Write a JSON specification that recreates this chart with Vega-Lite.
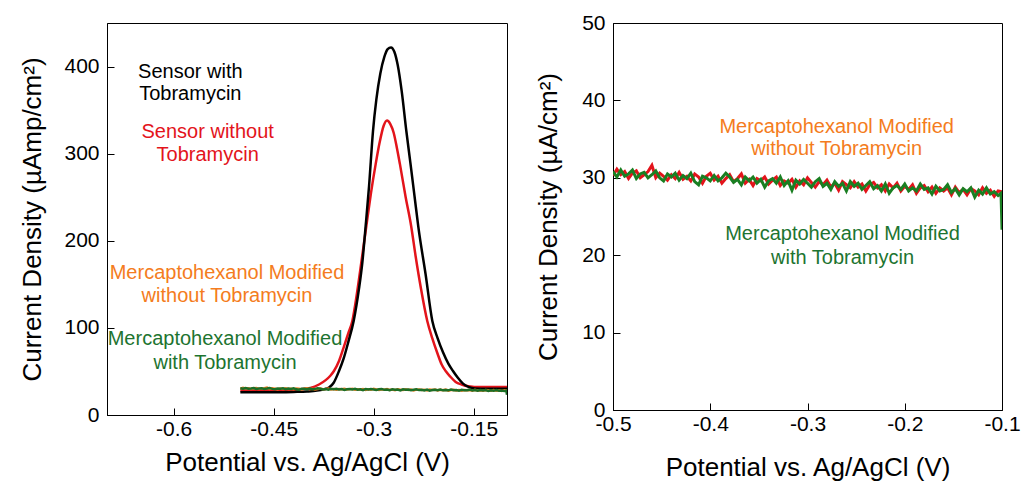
{
  "$schema": "https://vega.github.io/schema/vega-lite/v6.json",
  "padding": {"left": 19, "top": 11, "right": 0, "bottom": 0},
  "background": "white",
  "bounds": "flush",
  "spacing": 106,
  "config": {
    "font": "Liberation Sans",
    "view": {"stroke": "black", "strokeWidth": 1},
    "axis": {
      "grid": false,
      "domainColor": "black",
      "domainWidth": 1,
      "tickColor": "black",
      "tickSize": -7,
      "tickWidth": 1,
      "labelFont": "Liberation Sans",
      "labelFontSize": 21,
      "labelColor": "black",
      "labelFlush": false,
      "labelOverlap": false,
      "titleFont": "Liberation Sans",
      "titleFontSize": 26,
      "titleFontWeight": "normal",
      "titleColor": "black"
    },
    "text": {"font": "Liberation Sans", "fontSize": 20}
  },
  "datasets": {
    "peaks": [
      {"s": "b", "x": -0.5, "y": 26}, {"s": "b", "x": -0.46, "y": 26}, {"s": "b", "x": -0.42, "y": 26.5}, {"s": "b", "x": -0.4, "y": 27}, {"s": "b", "x": -0.385, "y": 28}, {"s": "b", "x": -0.375, "y": 29.5}, {"s": "b", "x": -0.367, "y": 31.5}, {"s": "b", "x": -0.36, "y": 37}, {"s": "b", "x": -0.352, "y": 50.5}, {"s": "b", "x": -0.345, "y": 65}, {"s": "b", "x": -0.338, "y": 84}, {"s": "b", "x": -0.33, "y": 108}, {"s": "b", "x": -0.322, "y": 145}, {"s": "b", "x": -0.317, "y": 175}, {"s": "b", "x": -0.312, "y": 217}, {"s": "b", "x": -0.307, "y": 262}, {"s": "b", "x": -0.301, "y": 326}, {"s": "b", "x": -0.296, "y": 362}, {"s": "b", "x": -0.29, "y": 392}, {"s": "b", "x": -0.284, "y": 411}, {"s": "b", "x": -0.279, "y": 420}, {"s": "b", "x": -0.274, "y": 422}, {"s": "b", "x": -0.269, "y": 417}, {"s": "b", "x": -0.264, "y": 402}, {"s": "b", "x": -0.258, "y": 372}, {"s": "b", "x": -0.251, "y": 326}, {"s": "b", "x": -0.245, "y": 290}, {"s": "b", "x": -0.239, "y": 253}, {"s": "b", "x": -0.233, "y": 216}, {"s": "b", "x": -0.222, "y": 161}, {"s": "b", "x": -0.212, "y": 108}, {"s": "b", "x": -0.204, "y": 88}, {"s": "b", "x": -0.196, "y": 72}, {"s": "b", "x": -0.188, "y": 59}, {"s": "b", "x": -0.181, "y": 50.5}, {"s": "b", "x": -0.174, "y": 43}, {"s": "b", "x": -0.166, "y": 36}, {"s": "b", "x": -0.157, "y": 32}, {"s": "b", "x": -0.148, "y": 30.5}, {"s": "b", "x": -0.13, "y": 30}, {"s": "b", "x": -0.1, "y": 30},
      {"s": "r", "x": -0.5, "y": 28}, {"s": "r", "x": -0.46, "y": 28}, {"s": "r", "x": -0.43, "y": 28.5}, {"s": "r", "x": -0.41, "y": 29.5}, {"s": "r", "x": -0.395, "y": 31}, {"s": "r", "x": -0.382, "y": 35}, {"s": "r", "x": -0.372, "y": 40}, {"s": "r", "x": -0.365, "y": 45}, {"s": "r", "x": -0.3596, "y": 50.5}, {"s": "r", "x": -0.352, "y": 62}, {"s": "r", "x": -0.344, "y": 80}, {"s": "r", "x": -0.338, "y": 94}, {"s": "r", "x": -0.332, "y": 108}, {"s": "r", "x": -0.325, "y": 140}, {"s": "r", "x": -0.318, "y": 178}, {"s": "r", "x": -0.311, "y": 217}, {"s": "r", "x": -0.304, "y": 255}, {"s": "r", "x": -0.297, "y": 288}, {"s": "r", "x": -0.291, "y": 313}, {"s": "r", "x": -0.285, "y": 332}, {"s": "r", "x": -0.28, "y": 338}, {"s": "r", "x": -0.275, "y": 334}, {"s": "r", "x": -0.27, "y": 324}, {"s": "r", "x": -0.265, "y": 306}, {"s": "r", "x": -0.2606, "y": 288}, {"s": "r", "x": -0.252, "y": 250}, {"s": "r", "x": -0.2438, "y": 217}, {"s": "r", "x": -0.237, "y": 182}, {"s": "r", "x": -0.229, "y": 145}, {"s": "r", "x": -0.2196, "y": 108}, {"s": "r", "x": -0.212, "y": 88}, {"s": "r", "x": -0.204, "y": 70}, {"s": "r", "x": -0.198, "y": 58}, {"s": "r", "x": -0.192, "y": 50.5}, {"s": "r", "x": -0.185, "y": 44}, {"s": "r", "x": -0.177, "y": 38}, {"s": "r", "x": -0.168, "y": 35}, {"s": "r", "x": -0.158, "y": 33}, {"s": "r", "x": -0.14, "y": 32}, {"s": "r", "x": -0.12, "y": 32}, {"s": "r", "x": -0.1, "y": 32}
    ],
    "without": [
      {"x": -0.5, "y": 30.3}, {"x": -0.496, "y": 31.1}, {"x": -0.492, "y": 30.4}, {"x": -0.488, "y": 30.8}, {"x": -0.484, "y": 29.9}, {"x": -0.48, "y": 30.6}, {"x": -0.476, "y": 30.9}, {"x": -0.472, "y": 30.0}, {"x": -0.468, "y": 30.4}, {"x": -0.464, "y": 30.8},
      {"x": -0.46, "y": 31.6}, {"x": -0.456, "y": 30.0}, {"x": -0.452, "y": 30.6}, {"x": -0.448, "y": 30.2}, {"x": -0.444, "y": 29.7}, {"x": -0.44, "y": 30.4}, {"x": -0.436, "y": 29.9}, {"x": -0.432, "y": 30.7}, {"x": -0.428, "y": 29.8}, {"x": -0.424, "y": 30.2},
      {"x": -0.42, "y": 29.6}, {"x": -0.416, "y": 30.5}, {"x": -0.412, "y": 30.1}, {"x": -0.408, "y": 29.3}, {"x": -0.404, "y": 30.2}, {"x": -0.4, "y": 30.6}, {"x": -0.396, "y": 29.7}, {"x": -0.392, "y": 30.2}, {"x": -0.388, "y": 29.3}, {"x": -0.384, "y": 29.9},
      {"x": -0.38, "y": 30.4}, {"x": -0.376, "y": 29.5}, {"x": -0.372, "y": 29.9}, {"x": -0.368, "y": 30.5}, {"x": -0.364, "y": 29.3}, {"x": -0.36, "y": 29.8}, {"x": -0.356, "y": 29.0}, {"x": -0.352, "y": 29.9}, {"x": -0.348, "y": 29.6}, {"x": -0.344, "y": 30.1},
      {"x": -0.34, "y": 29.2}, {"x": -0.336, "y": 29.7}, {"x": -0.332, "y": 30.1}, {"x": -0.328, "y": 29.0}, {"x": -0.324, "y": 29.6}, {"x": -0.32, "y": 29.3}, {"x": -0.316, "y": 29.8}, {"x": -0.312, "y": 28.8}, {"x": -0.308, "y": 29.6}, {"x": -0.304, "y": 29.1},
      {"x": -0.3, "y": 30.0}, {"x": -0.296, "y": 29.4}, {"x": -0.292, "y": 28.8}, {"x": -0.288, "y": 29.5}, {"x": -0.284, "y": 29.1}, {"x": -0.28, "y": 29.7}, {"x": -0.276, "y": 28.8}, {"x": -0.272, "y": 29.3}, {"x": -0.268, "y": 28.4}, {"x": -0.264, "y": 29.5},
      {"x": -0.26, "y": 29.1}, {"x": -0.256, "y": 28.7}, {"x": -0.252, "y": 29.5}, {"x": -0.248, "y": 28.8}, {"x": -0.244, "y": 29.2}, {"x": -0.24, "y": 28.3}, {"x": -0.236, "y": 29.1}, {"x": -0.232, "y": 29.4}, {"x": -0.228, "y": 28.7}, {"x": -0.224, "y": 29.1},
      {"x": -0.22, "y": 28.3}, {"x": -0.216, "y": 29.2}, {"x": -0.212, "y": 28.7}, {"x": -0.208, "y": 29.3}, {"x": -0.204, "y": 28.3}, {"x": -0.2, "y": 28.9}, {"x": -0.196, "y": 28.5}, {"x": -0.192, "y": 29.1}, {"x": -0.188, "y": 28.0}, {"x": -0.184, "y": 28.7},
      {"x": -0.18, "y": 29.0}, {"x": -0.176, "y": 28.2}, {"x": -0.172, "y": 28.8}, {"x": -0.168, "y": 28.0}, {"x": -0.164, "y": 28.7}, {"x": -0.16, "y": 28.3}, {"x": -0.156, "y": 28.7}, {"x": -0.152, "y": 27.8}, {"x": -0.148, "y": 28.8}, {"x": -0.144, "y": 28.1},
      {"x": -0.14, "y": 28.5}, {"x": -0.136, "y": 27.8}, {"x": -0.132, "y": 28.6}, {"x": -0.128, "y": 28.3}, {"x": -0.124, "y": 27.8}, {"x": -0.12, "y": 28.7}, {"x": -0.116, "y": 28.0}, {"x": -0.112, "y": 28.4}, {"x": -0.108, "y": 27.6}, {"x": -0.104, "y": 28.3},
      {"x": -0.1, "y": 28.2}
    ],
    "with": [
      {"x": -0.5, "y": 30.8}, {"x": -0.496, "y": 30.1}, {"x": -0.492, "y": 31.0}, {"x": -0.488, "y": 30.2}, {"x": -0.484, "y": 30.5}, {"x": -0.48, "y": 31.0}, {"x": -0.476, "y": 29.9}, {"x": -0.472, "y": 30.5}, {"x": -0.468, "y": 30.7}, {"x": -0.464, "y": 30.0},
      {"x": -0.46, "y": 30.4}, {"x": -0.456, "y": 30.9}, {"x": -0.452, "y": 30.0}, {"x": -0.448, "y": 29.6}, {"x": -0.444, "y": 30.5}, {"x": -0.44, "y": 30.1}, {"x": -0.436, "y": 30.6}, {"x": -0.432, "y": 29.7}, {"x": -0.428, "y": 30.3}, {"x": -0.424, "y": 29.9},
      {"x": -0.42, "y": 30.6}, {"x": -0.416, "y": 29.5}, {"x": -0.412, "y": 29.1}, {"x": -0.408, "y": 30.2}, {"x": -0.404, "y": 30.0}, {"x": -0.4, "y": 29.6}, {"x": -0.396, "y": 30.3}, {"x": -0.392, "y": 29.6}, {"x": -0.388, "y": 30.0}, {"x": -0.384, "y": 30.6},
      {"x": -0.38, "y": 30.1}, {"x": -0.376, "y": 29.4}, {"x": -0.372, "y": 29.8}, {"x": -0.368, "y": 29.1}, {"x": -0.364, "y": 30.1}, {"x": -0.36, "y": 29.6}, {"x": -0.356, "y": 30.1}, {"x": -0.352, "y": 29.3}, {"x": -0.348, "y": 29.8}, {"x": -0.344, "y": 28.8},
      {"x": -0.34, "y": 29.6}, {"x": -0.336, "y": 29.9}, {"x": -0.332, "y": 29.3}, {"x": -0.328, "y": 30.1}, {"x": -0.324, "y": 29.0}, {"x": -0.32, "y": 29.6}, {"x": -0.316, "y": 28.4}, {"x": -0.312, "y": 29.7}, {"x": -0.308, "y": 29.2}, {"x": -0.304, "y": 29.8},
      {"x": -0.3, "y": 29.3}, {"x": -0.296, "y": 28.8}, {"x": -0.292, "y": 29.5}, {"x": -0.288, "y": 29.9}, {"x": -0.284, "y": 28.9}, {"x": -0.28, "y": 29.3}, {"x": -0.276, "y": 28.5}, {"x": -0.272, "y": 29.5}, {"x": -0.268, "y": 28.9}, {"x": -0.264, "y": 29.3},
      {"x": -0.26, "y": 28.3}, {"x": -0.256, "y": 29.5}, {"x": -0.252, "y": 28.9}, {"x": -0.248, "y": 29.3}, {"x": -0.244, "y": 28.5}, {"x": -0.24, "y": 29.0}, {"x": -0.236, "y": 29.5}, {"x": -0.232, "y": 28.6}, {"x": -0.228, "y": 29.0}, {"x": -0.224, "y": 28.3},
      {"x": -0.22, "y": 29.2}, {"x": -0.216, "y": 28.0}, {"x": -0.212, "y": 28.7}, {"x": -0.208, "y": 29.0}, {"x": -0.204, "y": 28.5}, {"x": -0.2, "y": 29.2}, {"x": -0.196, "y": 28.3}, {"x": -0.192, "y": 28.7}, {"x": -0.188, "y": 28.3}, {"x": -0.184, "y": 29.2},
      {"x": -0.18, "y": 28.5}, {"x": -0.176, "y": 28.7}, {"x": -0.172, "y": 27.9}, {"x": -0.168, "y": 28.9}, {"x": -0.164, "y": 28.3}, {"x": -0.16, "y": 28.5}, {"x": -0.156, "y": 29.1}, {"x": -0.152, "y": 28.1}, {"x": -0.148, "y": 28.6}, {"x": -0.144, "y": 27.8},
      {"x": -0.14, "y": 28.6}, {"x": -0.136, "y": 28.2}, {"x": -0.132, "y": 28.7}, {"x": -0.128, "y": 27.5}, {"x": -0.124, "y": 28.4}, {"x": -0.12, "y": 27.9}, {"x": -0.116, "y": 28.7}, {"x": -0.112, "y": 27.9}, {"x": -0.108, "y": 28.2}, {"x": -0.104, "y": 27.7},
      {"x": -0.101, "y": 28.0}, {"x": -0.1, "y": 23.3}
    ],
    "labels": [
      {"p": "L", "g": "sw", "t": "Sensor with", "x": -0.575, "y": 394},
      {"p": "L", "g": "sw", "t": "Tobramycin", "x": -0.575, "y": 368},
      {"p": "L", "g": "swo", "t": "Sensor without", "x": -0.549, "y": 325},
      {"p": "L", "g": "swo", "t": "Tobramycin", "x": -0.549, "y": 299},
      {"p": "L", "g": "mwo", "t": "Mercaptohexanol Modified", "x": -0.52, "y": 162.7},
      {"p": "L", "g": "mwo", "t": "without Tobramycin", "x": -0.52, "y": 136.6},
      {"p": "L", "g": "mw", "t": "Mercaptohexanol Modified", "x": -0.523, "y": 86.9},
      {"p": "L", "g": "mw", "t": "with Tobramycin", "x": -0.523, "y": 60.1},
      {"p": "R", "g": "mwo", "t": "Mercaptohexanol Modified", "x": -0.27, "y": 36.5},
      {"p": "R", "g": "mwo", "t": "without Tobramycin", "x": -0.27, "y": 33.7},
      {"p": "R", "g": "mw", "t": "Mercaptohexanol Modified", "x": -0.264, "y": 22.7},
      {"p": "R", "g": "mw", "t": "with Tobramycin", "x": -0.264, "y": 19.7}
    ]
  },
  "hconcat": [
    {
      "width": 400,
      "height": 392,
      "encoding": {
        "x": {"field": "x", "type": "quantitative", "scale": {"domain": [-0.7, -0.1], "nice": false, "zero": false},
              "axis": {"values": [-0.6, -0.45, -0.3, -0.15], "labelExpr": "'' + datum.value", "title": "Potential vs. Ag/AgCl (V)", "labelPadding": 10, "titlePadding": 10}},
        "y": {"field": "y", "type": "quantitative", "scale": {"domain": [0, 450], "nice": false},
              "axis": {"values": [0, 100, 200, 300, 400], "title": "Current Density (µAmp/cm²)", "labelPadding": 15, "titlePadding": 18}}
      },
      "layer": [
        {"data": {"name": "peaks"}, "transform": [{"filter": "datum.s == 'r'"}], "mark": {"type": "line", "color": "#e3141b", "strokeWidth": 2.5, "interpolate": "monotone", "clip": true}},
        {"data": {"name": "peaks"}, "transform": [{"filter": "datum.s == 'b'"}], "mark": {"type": "line", "color": "black", "strokeWidth": 2.5, "interpolate": "monotone", "clip": true}},
        {"data": {"name": "without"}, "mark": {"type": "line", "color": "#f47c20", "strokeWidth": 2.5, "clip": true}},
        {"data": {"name": "with"}, "mark": {"type": "line", "color": "#1b6e25", "strokeWidth": 2.5, "clip": true}},
        {"data": {"name": "labels"}, "transform": [{"filter": "datum.p == 'L'"}],
         "mark": {"type": "text", "align": "center", "baseline": "middle", "fontSize": 20},
         "encoding": {"text": {"field": "t"}, "color": {"field": "g", "type": "nominal", "scale": {"domain": ["sw", "swo", "mwo", "mw"], "range": ["#000000", "#e3141b", "#f47c20", "#1d7430"]}, "legend": null}}}
      ]
    },
    {
      "width": 389,
      "height": 387,
      "encoding": {
        "x": {"field": "x", "type": "quantitative", "scale": {"domain": [-0.5, -0.1], "nice": false, "zero": false},
              "axis": {"values": [-0.5, -0.4, -0.3, -0.2, -0.1], "labelExpr": "'' + datum.value", "title": "Potential vs. Ag/AgCl (V)", "labelPadding": 10, "titlePadding": 20}},
        "y": {"field": "y", "type": "quantitative", "scale": {"domain": [0, 50], "nice": false},
              "axis": {"values": [0, 10, 20, 30, 40, 50], "title": "Current Density (µA/cm²)", "labelPadding": 15, "titlePadding": 20}}
      },
      "layer": [
        {"data": {"name": "without"}, "mark": {"type": "line", "color": "#e3141b", "strokeWidth": 3, "clip": true}},
        {"data": {"name": "with"}, "mark": {"type": "line", "color": "#1a7f22", "strokeWidth": 3, "clip": true}},
        {"data": {"name": "labels"}, "transform": [{"filter": "datum.p == 'R'"}],
         "mark": {"type": "text", "align": "center", "baseline": "middle", "fontSize": 20},
         "encoding": {"text": {"field": "t"}, "color": {"field": "g", "type": "nominal", "scale": {"domain": ["sw", "swo", "mwo", "mw"], "range": ["#000000", "#e3141b", "#f47c20", "#1d7430"]}, "legend": null}}}
      ]
    }
  ]
}
